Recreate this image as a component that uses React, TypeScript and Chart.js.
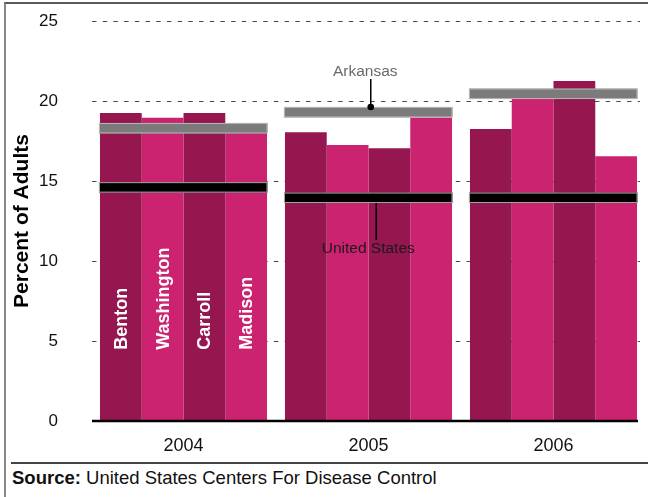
import React, { useEffect, useRef } from "react";
import { Chart, registerables } from "chart.js";

Chart.register(...registerables);

const years = ["2004", "2005", "2006"];
const counties = ["Benton", "Washington", "Carroll", "Madison"];
const benton = [19.25, 18.05, 18.25];
const washington = [18.95, 17.25, 20.2];
const carroll = [19.25, 17.05, 21.25];
const madison = [18.6, 18.95, 16.55];
const arkansas = [18.3, 19.3, 20.45];
const unitedStates = [14.6, 13.95, 13.95];
const yTicks = [0, 5, 10, 15, 20, 25];

const DARK = "#961650";
const PINK = "#CC2370";
const FONT = "'Liberation Sans', Arial, Helvetica, sans-serif";

const refPlugin = {
  id: "refLines",
  beforeDatasetsDraw(chart: any) {
    const { ctx, chartArea, scales } = chart;
    const y = scales.y;
    ctx.save();
    ctx.strokeStyle = "#4a4a4a";
    ctx.lineWidth = 1.2;
    ctx.setLineDash([4.5, 6.2]);
    yTicks.forEach((v) => {
      if (v === 0) return;
      const py = Math.round(y.getPixelForValue(v)) + 0.5;
      ctx.beginPath();
      ctx.moveTo(chartArea.left + 1, py);
      ctx.lineTo(chartArea.right - 6, py);
      ctx.stroke();
    });
    ctx.restore();
  },
  afterDatasetsDraw(chart: any) {
    const { ctx, chartArea, scales } = chart;
    const y = scales.y;
    const first = chart.getDatasetMeta(0);
    const last = chart.getDatasetMeta(counties.length - 1);
    const half = 5.25;
    const groups: { l: number; r: number }[] = [];
    ctx.save();
    years.forEach((_, i) => {
      const b0 = first.data[i];
      const b3 = last.data[i];
      const l = b0.x - b0.width / 2 - 1;
      const r = b3.x + b3.width / 2 + 0.5;
      groups.push({ l, r });
      const drawRect = (val: number, fill: string) => {
        const cy = y.getPixelForValue(val);
        ctx.fillStyle = fill;
        ctx.fillRect(l, cy - half, r - l, half * 2);
        ctx.strokeStyle = "rgba(190,190,190,0.9)";
        ctx.lineWidth = 1;
        ctx.strokeRect(l + 0.5, cy - half + 0.5, r - l - 1, half * 2 - 1);
      };
      drawRect(arkansas[i], "#7b7b7b");
      drawRect(unitedStates[i], "#000000");
    });

    // baseline
    const by = y.getPixelForValue(0);
    ctx.strokeStyle = "#000";
    ctx.lineWidth = 2.5;
    ctx.beginPath();
    ctx.moveTo(chartArea.left + 1, by);
    ctx.lineTo(chartArea.right - 8, by);
    ctx.stroke();

    // county labels on 2004 bars
    ctx.fillStyle = "#ffffff";
    ctx.font = `bold 18px ${FONT}`;
    ctx.textAlign = "left";
    ctx.textBaseline = "middle";
    counties.forEach((name, d) => {
      const bar = chart.getDatasetMeta(d).data[0];
      ctx.save();
      ctx.translate(bar.x, y.getPixelForValue(4.45));
      ctx.rotate(-Math.PI / 2);
      ctx.fillText(name, 0, 1);
      ctx.restore();
    });

    // annotations on 2005 group
    const g = groups[1];
    const cx = (g.l + g.r) / 2;
    const arkTop = y.getPixelForValue(arkansas[1]) - half;
    const usBottom = y.getPixelForValue(unitedStates[1]) + half;

    ctx.textAlign = "center";
    ctx.textBaseline = "middle";
    ctx.font = `15.5px ${FONT}`;
    ctx.fillStyle = "#6a6a6a";
    ctx.fillText("Arkansas", cx - 3, arkTop - 35);
    ctx.strokeStyle = "#000";
    ctx.lineWidth = 1.5;
    ctx.beginPath();
    ctx.moveTo(cx + 2.5, arkTop - 28);
    ctx.lineTo(cx + 2.5, arkTop);
    ctx.stroke();
    ctx.fillStyle = "#000";
    ctx.beginPath();
    ctx.arc(cx + 2.5, arkTop, 3.3, 0, Math.PI * 2);
    ctx.fill();

    ctx.beginPath();
    ctx.moveTo(cx + 8, usBottom);
    ctx.lineTo(cx + 8, usBottom + 37);
    ctx.stroke();
    ctx.fillStyle = "#1a1a1a";
    ctx.fillText("United States", cx, usBottom + 46);
    ctx.restore();
  },
};

export default function App() {
  const canvasRef = useRef<HTMLCanvasElement | null>(null);

  useEffect(() => {
    if (!canvasRef.current) return;
    Chart.defaults.font.family = FONT;
    const colors = [DARK, PINK, DARK, PINK];
    const values = [benton, washington, carroll, madison];
    const chart = new Chart(canvasRef.current, {
      type: "bar",
      data: {
        labels: years,
        datasets: counties.map((name, i) => ({
          label: name,
          data: values[i],
          backgroundColor: colors[i],
          borderWidth: 0,
          barPercentage: 1,
          categoryPercentage: 0.903,
        })),
      },
      options: {
        animation: false,
        responsive: false,
        maintainAspectRatio: false,
        devicePixelRatio: 1,
        layout: { padding: { top: 21, right: 2, left: 0, bottom: 0 } },
        plugins: {
          legend: { display: false },
          tooltip: { enabled: false },
        },
        scales: {
          x: {
            grid: { display: false, drawTicks: false },
            border: { display: false },
            ticks: { padding: 14, color: "#111", font: { size: 18, family: FONT } },
            afterFit(s: any) {
              s.height = 41;
              s.paddingLeft = 0;
              s.paddingRight = 0;
            },
          },
          y: {
            min: 0,
            max: 25,
            grid: { display: false, drawTicks: false },
            border: { display: false },
            ticks: {
              stepSize: 5,
              padding: 33,
              color: "#111",
              font: { size: 17, family: FONT },
            },
            title: {
              display: true,
              text: "Percent of Adults",
              color: "#000",
              font: { size: 21, weight: "bold", family: FONT },
              padding: { top: 10, bottom: 0 },
            },
            afterFit(s: any) {
              s.width = 91;
              s.paddingTop = 0;
              s.paddingBottom = 0;
            },
          },
        },
      },
      plugins: [refPlugin],
    } as any);
    return () => chart.destroy();
  }, []);

  return (
    <div
      style={{
        position: "fixed",
        left: 0,
        top: 0,
        width: 648,
        height: 497,
        background: "#fff",
        overflow: "hidden",
        fontFamily: FONT,
      }}
    >
      <div
        style={{
          position: "absolute",
          left: 4,
          top: 2,
          width: 644,
          height: 495,
          borderLeft: "2px solid #888",
          borderTop: "2px solid #5a5a5a",
          boxSizing: "border-box",
        }}
      />
      <div
        style={{
          position: "absolute",
          left: 11,
          top: 462,
          width: 637,
          height: 0,
          borderTop: "2px solid #444",
        }}
      />
      <canvas
        ref={canvasRef}
        width={648}
        height={462}
        style={{ position: "absolute", left: 0, top: 0, width: 648, height: 462 }}
      />
      <div
        style={{
          position: "absolute",
          left: 12,
          top: 468,
          fontSize: 18.5,
          lineHeight: "20px",
          color: "#111",
          whiteSpace: "nowrap",
        }}
      >
        <b>Source:</b> United States Centers For Disease Control
      </div>
    </div>
  );
}
